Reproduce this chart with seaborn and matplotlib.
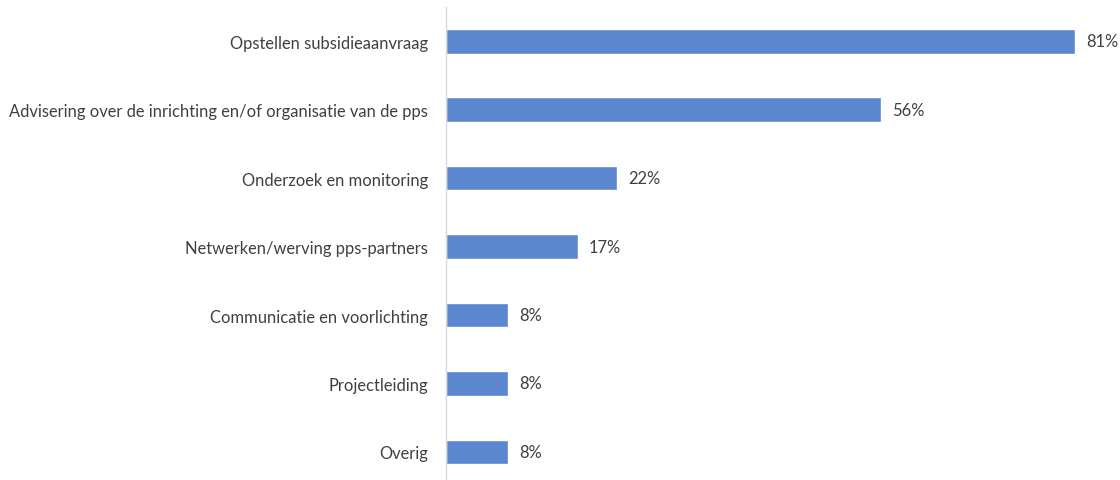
import matplotlib
matplotlib.use("Agg")
import matplotlib.pyplot as plt
import seaborn as sns
import pandas as pd

categories = [
    "Opstellen subsidieaanvraag",
    "Advisering over de inrichting en/of organisatie van de pps",
    "Onderzoek en monitoring",
    "Netwerken/werving pps-partners",
    "Communicatie en voorlichting",
    "Projectleiding",
    "Overig",
]
percentages = [81, 56, 22, 17, 8, 8, 8]

df = pd.DataFrame({"categorie": categories, "pct": percentages})

sns.set_theme(style="white")
plt.rcParams["font.family"] = ["Lato", "DejaVu Sans"]

TEXT = "#404040"
BAR = "#5B87D0"

fig = plt.figure(figsize=(11.2, 4.81), dpi=100)
ax = fig.add_axes([446 / 1120, 0, 1 - 446 / 1120, (481 - 8) / 481])

sns.barplot(data=df, y="categorie", x="pct", orient="h", color=BAR,
            width=0.36, saturation=1, ax=ax)

ax.set_xlim(0, (1120 - 446) / 7.77)
ax.set_ylim(6.41, -0.5)
ax.set_xlabel("")
ax.set_ylabel("")
ax.set_xticks([])
ax.tick_params(axis="y", length=0, pad=13, labelsize=11.9, labelcolor=TEXT)

for side in ["top", "right", "bottom"]:
    ax.spines[side].set_visible(False)
ax.spines["left"].set_color("#d9d9d9")
ax.spines["left"].set_linewidth(1.0)

for container in ax.containers:
    ax.bar_label(container, labels=[f"{v}%" for v in percentages],
                 padding=8, fontsize=11.9, color=TEXT, clip_on=False)

fig.savefig("out.png", dpi=100)
